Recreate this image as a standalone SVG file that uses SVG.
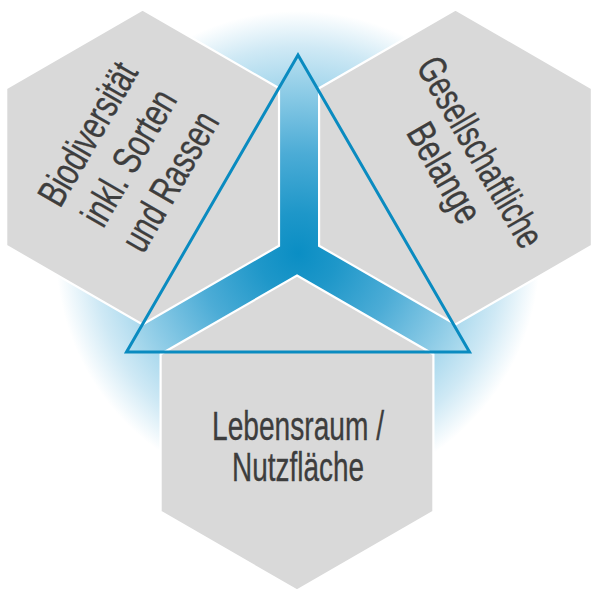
<svg xmlns="http://www.w3.org/2000/svg" width="600" height="600" viewBox="0 0 600 600">
  <defs>
    <radialGradient id="glow" gradientUnits="userSpaceOnUse" cx="298" cy="253" r="242">
      <stop offset="0" stop-color="#4fb0d9"/>
      <stop offset="0.55" stop-color="#8fcde8"/>
      <stop offset="0.7" stop-color="#a8d8ed"/>
      <stop offset="0.85" stop-color="#cfe9f5"/>
      <stop offset="1" stop-color="#ffffff"/>
    </radialGradient>
    <radialGradient id="arms" gradientUnits="userSpaceOnUse" cx="298" cy="253" r="200">
      <stop offset="0" stop-color="#0a8ec4"/>
      <stop offset="0.2" stop-color="#1e97c9"/>
      <stop offset="0.5" stop-color="#4cacd6"/>
      <stop offset="0.8" stop-color="#8ccbe6"/>
      <stop offset="1" stop-color="#b8e0f0"/>
    </radialGradient>
  </defs>
  <style>
    .hex { fill: #d9d9d9; stroke: #ffffff; stroke-width: 2.2; stroke-linejoin: miter; }
    .lbl { font-family: "Liberation Sans", Arial, sans-serif; font-size: 40px; fill: #3d3d3d; stroke: #3d3d3d; stroke-width: 0.35; text-anchor: middle; }
    .tri { fill: none; stroke: #0a8bc0; stroke-width: 3; stroke-linejoin: miter; }
  </style>

  <rect x="0" y="0" width="600" height="600" fill="#ffffff"/>
  <circle id="glow-bg" cx="298" cy="253" r="242" fill="url(#glow)"/>

  <g id="triangle-fill">
    <polygon points="298,55 469.5,352 126.5,352" fill="url(#arms)"/>
  </g>

  <g id="node-biodiversitaet">
    <polygon class="hex" points="142.6,9.5 279,88.25 279,245.75 142.6,324.5 6.2,245.75 6.2,88.25"/>
    <g transform="translate(140.7,164.4) rotate(-60)">
      <text class="lbl" x="0" y="-47.5" textLength="158" lengthAdjust="spacingAndGlyphs">Biodiversität</text>
      <text class="lbl" x="0" y="0" textLength="150" lengthAdjust="spacingAndGlyphs">inkl. Sorten</text>
      <text class="lbl" x="0" y="47.5" textLength="154" lengthAdjust="spacingAndGlyphs">und Rassen</text>
    </g>
  </g>

  <g id="node-gesellschaft">
    <polygon class="hex" points="455.5,9.5 591.9,88.25 591.9,245.75 455.5,324.5 319.1,245.75 319.1,88.25"/>
    <g transform="translate(468.7,158.9) rotate(60)">
      <text class="lbl" x="0" y="0" textLength="213" lengthAdjust="spacingAndGlyphs">Gesellschaftliche</text>
      <text class="lbl" x="0" y="41.5" textLength="109" lengthAdjust="spacingAndGlyphs">Belange</text>
    </g>
  </g>

  <g id="node-lebensraum">
    <polygon class="hex" points="297,275.5 433.4,354.25 433.4,511.75 297,590.5 160.6,511.75 160.6,354.25"/>
    <text class="lbl" x="298" y="439.5" textLength="172" lengthAdjust="spacingAndGlyphs">Lebensraum /</text>
    <text class="lbl" x="298" y="480.5" textLength="132" lengthAdjust="spacingAndGlyphs">Nutzfläche</text>
  </g>

  <g id="connectors">
    <polygon class="tri" points="298,55 469.5,352 126.5,352"/>
  </g>
</svg>
